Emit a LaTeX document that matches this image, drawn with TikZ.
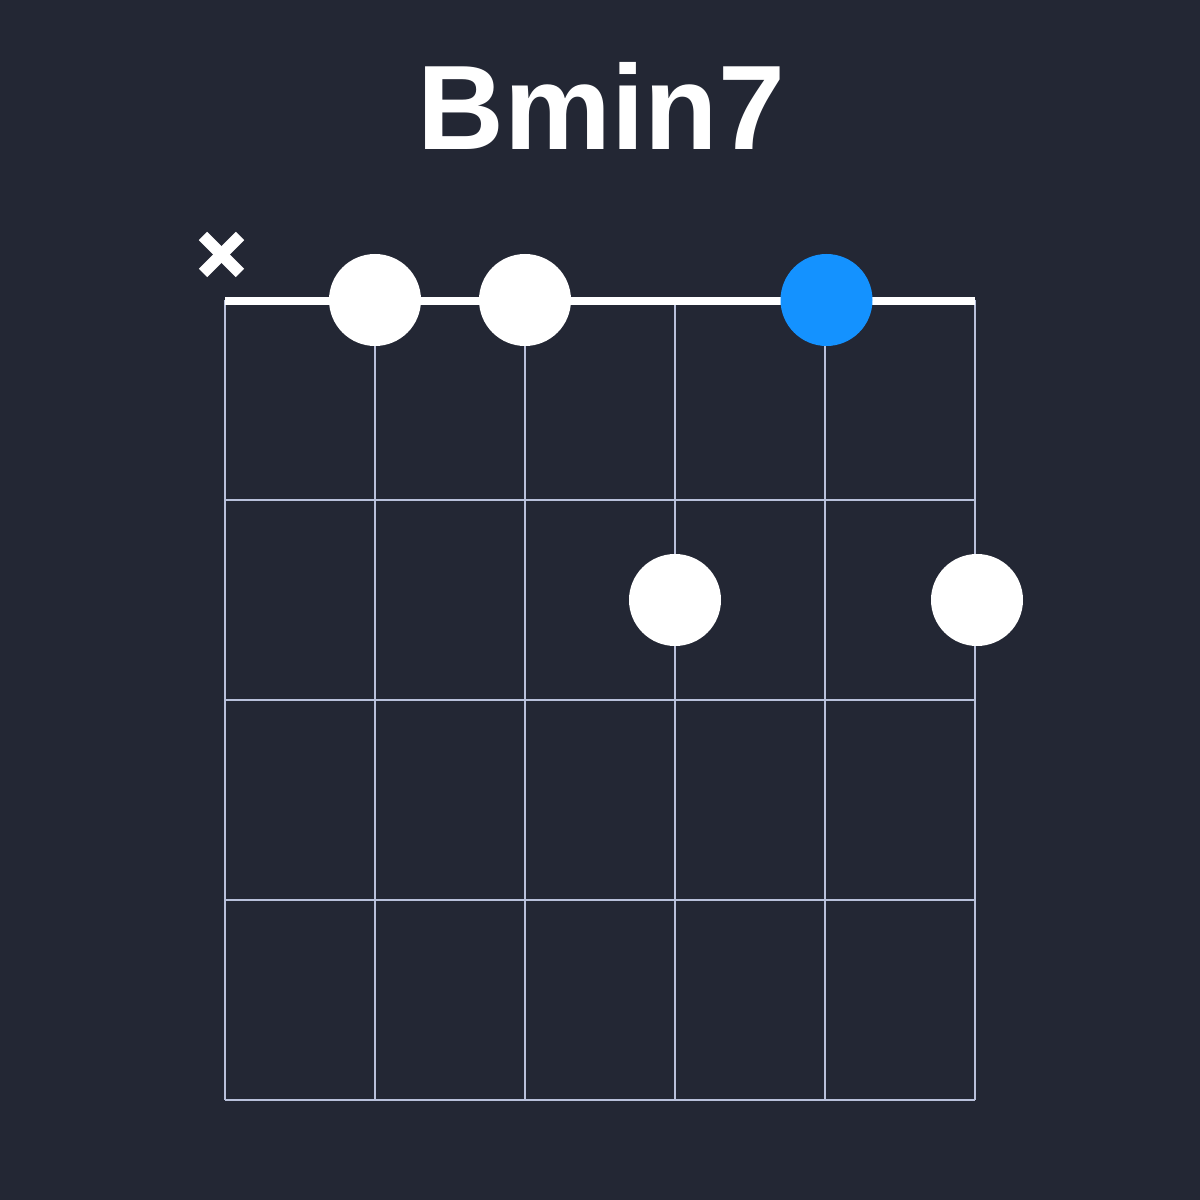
\documentclass[tikz,border=0pt]{standalone}
\usepackage{fontspec}
\setmainfont{Liberation Sans}
\usetikzlibrary{calc}
\definecolor{ChartBg}{HTML}{232734}
\definecolor{GridLine}{HTML}{B8C0DA}
\definecolor{RootBlue}{HTML}{1492FF}
\tikzset{
  finger/.style={circle,fill=white,inner sep=0pt,minimum size=9.2mm},
  rootfinger/.style={finger,fill=RootBlue},
}

\begin{document}
\begin{tikzpicture}[line cap=round,line join=round]
  \fill[ChartBg] (0,0) rectangle (12,12);
  \useasboundingbox (0,0) rectangle (12,12);
  % strings and frets
  \foreach \s in {0,...,5}
    \draw[GridLine,line width=0.2mm,line cap=butt] (2.25+1.5*\s,9) -- (2.25+1.5*\s,1);
  \foreach \f in {1,...,4}
    \draw[GridLine,line width=0.2mm,line cap=butt] (2.25,9-2*\f) -- (9.75,9-2*\f);
  \draw[white,line width=0.8mm,line cap=butt] (2.25,8.99) -- (9.75,8.99);
  % muted string
  \coordinate (M) at (2.215,9.455);
  \draw[white,line width=1.2mm,line cap=butt] ($(M)+(-0.185,0.185)$) -- ($(M)+(0.185,-0.185)$);
  \draw[white,line width=1.2mm,line cap=butt] ($(M)+(-0.185,-0.185)$) -- ($(M)+(0.185,0.185)$);
  % fingers
  \node[finger] (f2) at (3.75,9) {};
  \node[finger] (f3) at (5.25,9) {};
  \node[rootfinger] (f5) at (8.265,9) {};
  \node[finger] (f4) at (6.75,6) {};
  \node[finger] (f6) at (9.77,6) {};
  \node[white,anchor=base,font=\bfseries\fontsize{34.2pt}{40pt}\selectfont] (title) at (6.015,10.5) {Bmin7};
\end{tikzpicture}
\end{document}
